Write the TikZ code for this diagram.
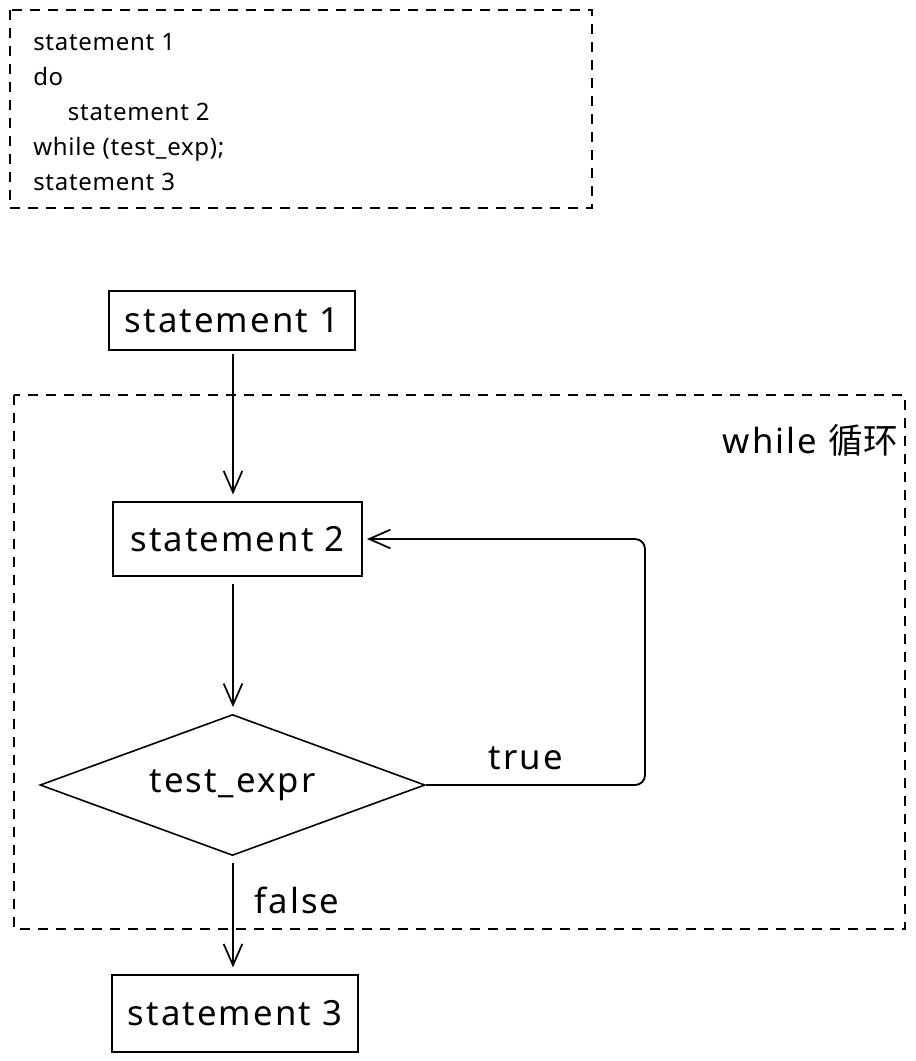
\documentclass[tikz,border=0pt]{standalone}
\usepackage{fontspec}
\setmainfont{Noto Sans}
\newfontfamily\cjk{Noto Sans CJK SC}
\usetikzlibrary{positioning,shapes.geometric,arrows.meta}

\newcommand{\bigtxt}{\fontsize{26}{30}\selectfont\addfontfeatures{LetterSpace=6}}

\tikzset{
    box/.style={draw, line width=1.4pt, minimum width=184.5pt, inner sep=0pt, font=\bigtxt},
    decision/.style={draw, diamond, line width=1.2pt, aspect=2.7, inner sep=0pt,
        minimum width=288.75pt, minimum height=105.75pt, font=\bigtxt},
    arr/.style={line width=1.4pt, -{Straight Barb[length=16pt,width=14pt,line width=1.3pt]}},
    frame/.style={line width=1.2pt, dash pattern=on 7.5pt off 6pt},
    lbl/.style={font=\bigtxt, inner sep=0pt},
}

\begin{document}
\begin{tikzpicture}[x=0.75pt, y=-0.75pt]
    \useasboundingbox (0,0) rectangle (915,1061);

    % source code
    \draw[frame] (10,10) rectangle (592,208);
    \node[anchor=north west, inner sep=0pt, align=left,
        font=\fontsize{18}{26.25}\selectfont\addfontfeatures{LetterSpace=3}] (code) at (33,33)
        {statement 1\\ do\\ \hspace*{26pt}statement 2\\ while (test\_exp);\\ statement 3};

    % loop frame
    \draw[frame] (14,395) rectangle (905,929);
    \node[lbl, anchor=east] (looplbl) at (898,440) {while {\cjk 循环}};

    \node[box, minimum height=44.25pt] (s1) at (232,320.5) {statement 1};
    \node[box, minimum width=186.75pt, minimum height=55.5pt] (s2) at (237.5,539) {statement 2};
    \node[decision] (test) at (232.5,785) {test\_expr};
    \node[box, minimum height=57.75pt] (s3) at (235,1013.5) {statement 3};

    \coordinate (turn) at (645,539);

    \draw[arr, shorten <=2pt, shorten >=5pt] (233,0 |- s1.south) -- (233,0 |- s2.north);
    \draw[arr, shorten <=5pt, shorten >=5pt] (233,0 |- s2.south) -- (233,0 |- test.north);
    \draw[arr, rounded corners=7.5pt, shorten >=3pt] (test.east) -| (turn) -- (s2.east);
    \draw[arr, shorten <=5pt, shorten >=5pt] (233,0 |- test.south) -- (233,0 |- s3.north);

    \node[lbl] (truelbl) at (526,758) {true};
    \node[lbl] (falselbl) at (297,900) {false};

\end{tikzpicture}
\end{document}
